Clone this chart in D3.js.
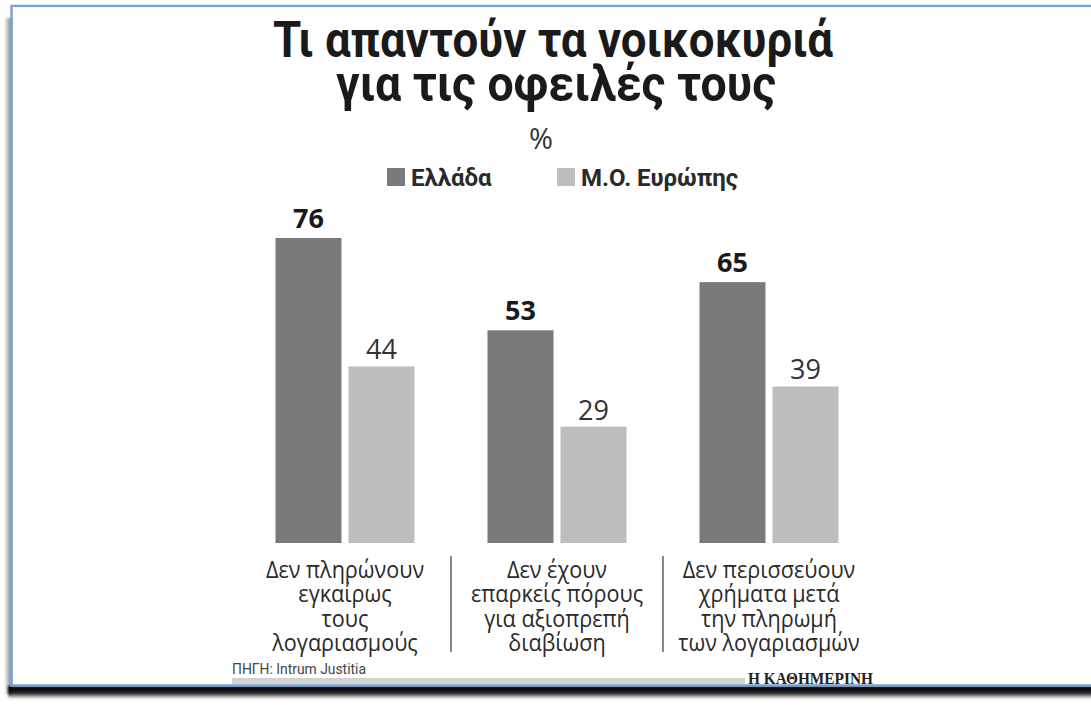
<!DOCTYPE html>
<html>
<head>
<meta charset="utf-8">
<script src="https://cdn.jsdelivr.net/npm/d3@7"></script>
<style>
  html, body { margin: 0; padding: 0; background: #fff; }
  svg { display: block; }
</style>
</head>
<body>
<svg id="chart" width="1091" height="706"></svg>
<script>
// Survey answers on household debts (%), Greece vs European average
const categories = ["late", "means", "leftover"];
const categoryLines = [
  ["Δεν πληρώνουν", "εγκαίρως", "τους", "λογαριασμούς"],
  ["Δεν έχουν", "επαρκείς πόρους", "για αξιοπρεπή", "διαβίωση"],
  ["Δεν περισσεύουν", "χρήματα μετά", "την πληρωμή", "των λογαριασμών"]
];
const seriesKeys = ["greece", "europe"];
const seriesNames = ["Ελλάδα", "Μ.Ο. Ευρώπης"];
const greece = [76, 53, 65];
const europe = [44, 29, 39];

const titleLines = ["Τι απαντούν τα νοικοκυριά", "για τις οφειλές τους"];
const unitLabel = "%";
const sourceLabel = "ΠΗΓΗ: Intrum Justitia";
const brandLabel = "Η ΚΑΘΗΜΕΡΙΝΗ";

const colors = { greece: "#7a7a7c", europe: "#bdbdc0" };
const textColor = "#262626";

const svg = d3.select("#chart");
const defs = svg.append("defs");

// soft drop shadow along the frame
const g1 = defs.append("linearGradient").attr("id", "shadowBottom")
  .attr("x1", 0).attr("y1", 0).attr("x2", 0).attr("y2", 1);
g1.append("stop").attr("offset", "0%").attr("stop-color", "#000").attr("stop-opacity", 1);
g1.append("stop").attr("offset", "50%").attr("stop-color", "#000").attr("stop-opacity", 0.9);
g1.append("stop").attr("offset", "100%").attr("stop-color", "#000").attr("stop-opacity", 0);
const g2 = defs.append("linearGradient").attr("id", "shadowLeft")
  .attr("x1", 1).attr("y1", 0).attr("x2", 0).attr("y2", 0);
g2.append("stop").attr("offset", "0%").attr("stop-color", "#555").attr("stop-opacity", 0.8);
g2.append("stop").attr("offset", "100%").attr("stop-color", "#555").attr("stop-opacity", 0);
defs.append("filter").attr("id", "soft").append("feGaussianBlur").attr("stdDeviation", 1.2);

svg.append("rect").attr("x", 4).attr("y", 18).attr("width", 8).attr("height", 676)
  .attr("fill", "url(#shadowLeft)").attr("filter", "url(#soft)");
svg.append("rect").attr("x", 8).attr("y", 686).attr("width", 1091).attr("height", 13)
  .attr("fill", "url(#shadowBottom)").attr("filter", "url(#soft)");

// frame
svg.append("path")
  .attr("d", "M1095,6 L11.5,6 L11.5,685.5 L1095,685.5")
  .attr("fill", "none").attr("stroke", "#7da3d3").attr("stroke-width", 2.5);
svg.append("rect").attr("x", 13).attr("y", 7.5).attr("width", 1080).attr("height", 676.5).attr("fill", "#fff");

// title
const title = svg.append("g").attr("font-family", "Roboto, 'Noto Sans', sans-serif")
  .attr("font-weight", 700).attr("fill", "#1a1a1a").attr("text-anchor", "middle");
title.append("text").attr("x", 553).attr("y", 57).attr("font-size", 50)
  .attr("textLength", 560).attr("lengthAdjust", "spacingAndGlyphs").text(titleLines[0]);
title.append("text").attr("x", 556).attr("y", 101).attr("font-size", 50)
  .attr("textLength", 440).attr("lengthAdjust", "spacingAndGlyphs").text(titleLines[1]);

svg.append("text").attr("x", 541).attr("y", 149).attr("text-anchor", "middle")
  .attr("font-family", "'Open Sans', sans-serif").attr("font-size", 29).attr("fill", "#333")
  .text(unitLabel);

// legend
const legendX = [387, 557];
const legend = svg.append("g").selectAll("g").data(seriesKeys).join("g")
  .attr("transform", (d, i) => `translate(${legendX[i]},168)`);
legend.append("rect").attr("width", 18).attr("height", 18).attr("fill", d => colors[d]);
legend.append("text").attr("x", 24).attr("y", 18)
  .attr("font-family", "Roboto, sans-serif").attr("font-weight", 700).attr("font-size", 24)
  .attr("fill", "#2a2a2a").text((d, i) => seriesNames[i]);

// scales
const x0 = d3.scaleBand().domain(categories).range([239, 875]);
const x1 = d3.scaleBand().domain(seriesKeys).range([-69.5, 69.5]).paddingInner(0.096);
const y = d3.scaleLinear().domain([0, 76]).range([543, 238]);

const rows = categories.map((c, i) => ({ cat: c, greece: greece[i], europe: europe[i] }));

const groups = svg.append("g").selectAll("g").data(rows).join("g")
  .attr("transform", d => `translate(${x0(d.cat) + x0.bandwidth() / 2},0)`);

groups.selectAll("rect").data(d => seriesKeys.map(k => ({ key: k, value: d[k] }))).join("rect")
  .attr("x", d => x1(d.key))
  .attr("y", d => y(d.value))
  .attr("width", x1.bandwidth())
  .attr("height", d => y(0) - y(d.value))
  .attr("fill", d => colors[d.key]);

groups.selectAll("text.val").data(d => seriesKeys.map(k => ({ key: k, value: d[k] }))).join("text")
  .attr("class", "val")
  .attr("x", d => x1(d.key) + x1.bandwidth() / 2)
  .attr("y", d => y(d.value) - (d.key === "greece" ? 10 : 7))
  .attr("text-anchor", "middle")
  .attr("font-family", "'Open Sans', sans-serif")
  .attr("font-weight", d => d.key === "greece" ? 700 : 400)
  .attr("font-size", 27)
  .attr("fill", d => d.key === "greece" ? "#1a1a1a" : "#333")
  .text(d => d.value);

// category labels
groups.append("g").attr("transform", "scale(0.9,1)")
  .selectAll("text").data((d, i) => categoryLines[i]).join("text")
  .attr("x", 0)
  .attr("y", (d, j) => 578 + j * 24.3)
  .attr("text-anchor", "middle")
  .attr("font-family", "'Open Sans', sans-serif")
  .attr("font-size", 24)
  .attr("fill", "#2a2a2a")
  .text(d => d);

// separators between categories
svg.append("g").selectAll("line").data(categories.slice(1)).join("line")
  .attr("x1", d => x0(d)).attr("x2", d => x0(d))
  .attr("y1", 556).attr("y2", 652)
  .attr("stroke", "#444").attr("stroke-width", 1.3);

// footer
svg.append("text").attr("x", 232).attr("y", 674)
  .attr("font-family", "Roboto, sans-serif").attr("font-size", 14).attr("fill", "#444")
  .attr("textLength", 134).attr("lengthAdjust", "spacingAndGlyphs").text(sourceLabel);
svg.append("rect").attr("x", 232).attr("y", 678).attr("width", 513).attr("height", 6).attr("fill", "#d2d2d2");
svg.append("text").attr("x", 748).attr("y", 684)
  .attr("font-family", "'Liberation Serif', serif").attr("font-weight", 700).attr("font-size", 16)
  .attr("fill", "#222")
  .attr("textLength", 125).attr("lengthAdjust", "spacingAndGlyphs").text(brandLabel);
</script>
</body>
</html>
